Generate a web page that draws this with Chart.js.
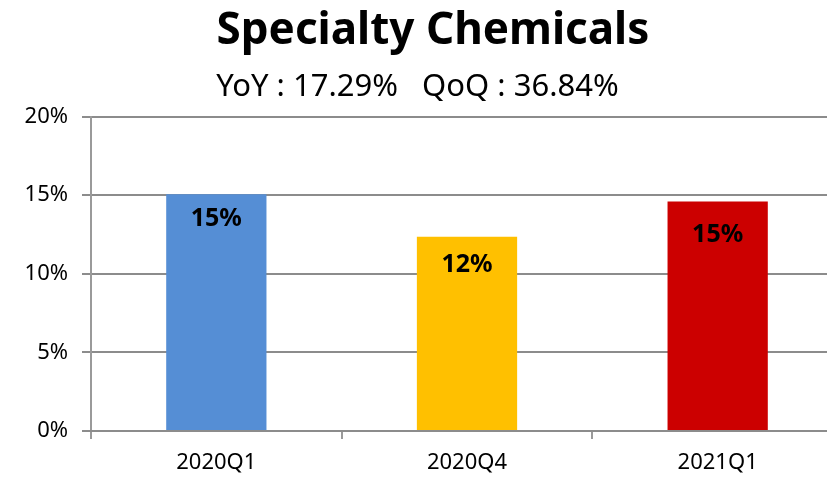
<!DOCTYPE html>
<html>
<head>
    <title>Specialty Chemicals</title>
    <script src="https://cdn.jsdelivr.net/npm/chart.js"></script>
    <style>
        body { margin: 0; overflow: hidden; background: #fff; }
        #wrap { position: absolute; left: 0; top: 0; width: 860px; height: 480px; }
    </style>
</head>
<body>
    <div id="wrap">
        <canvas id="chemChart"></canvas>
    </div>

    <script>
        const quarters = ['2020Q1', '2020Q4', '2021Q1'];
        const ratio = [15.05, 12.36, 14.59];
        const barLabels = ['15%', '12%', '15%'];
        const yTicks = [0, 5, 10, 15, 20];

        const barColors = ['#558ED5', '#FFC000', '#CC0000'];
        const labelDrop = [25, 28, 33]; // label centre below bar top

        const fontFamily = '"Noto Sans", "Open Sans", sans-serif';

        const barLabelPlugin = {
            id: 'barLabel',
            afterDatasetsDraw(chart) {
                const ctx = chart.ctx;
                const meta = chart.getDatasetMeta(0);
                ctx.save();
                ctx.font = 'bold 25px ' + fontFamily;
                ctx.fillStyle = '#000';
                ctx.textAlign = 'center';
                ctx.textBaseline = 'middle';
                meta.data.forEach((bar, i) => {
                    ctx.fillText(barLabels[i], bar.x, bar.y + labelDrop[i]);
                });
                ctx.restore();
            }
        };

        new Chart(document.getElementById('chemChart'), {
            type: 'bar',
            data: {
                labels: quarters,
                datasets: [{
                    data: ratio,
                    backgroundColor: barColors,
                    barPercentage: 0.8,
                    categoryPercentage: 0.5
                }]
            },
            plugins: [barLabelPlugin],
            options: {
                responsive: true,
                maintainAspectRatio: false,
                animation: false,
                layout: { padding: { left: 0, right: 17, top: 0, bottom: 0 } },
                plugins: {
                    legend: { display: false },
                    tooltip: { enabled: false },
                    title: {
                        display: true,
                        text: '  Specialty Chemicals',
                        color: '#000',
                        font: { family: fontFamily, size: 44, weight: 'bold', lineHeight: 1 },
                        padding: { top: 9, bottom: 18.5 }
                    },
                    subtitle: {
                        display: true,
                        text: 'YoY : 17.29%   QoQ : 36.84% ',
                        color: '#000',
                        font: { family: fontFamily, size: 31, lineHeight: 1 },
                        padding: { top: 0, bottom: 14 }
                    }
                },
                scales: {
                    y: {
                        min: 0,
                        max: 20,
                        afterBuildTicks: (scale) => { scale.ticks = yTicks.map(v => ({ value: v })); },
                        afterFit: (scale) => { scale.width = 91; },
                        ticks: {
                            color: '#000',
                            padding: 14,
                            font: { family: fontFamily, size: 22 },
                            callback: (v) => v + '%'
                        },
                        grid: { color: '#8c8c8c', lineWidth: 2, tickLength: 9 },
                        border: { color: '#9a9a9a', width: 2 }
                    },
                    x: {
                        afterFit: (scale) => { scale.height = 49; },
                        ticks: {
                            color: '#000',
                            padding: 11,
                            font: { family: fontFamily, size: 22 }
                        },
                        grid: { drawOnChartArea: false, color: '#9a9a9a', lineWidth: 2, tickLength: 8 },
                        border: { color: '#8c8c8c', width: 2 }
                    }
                }
            }
        });
    </script>
</body>
</html>
